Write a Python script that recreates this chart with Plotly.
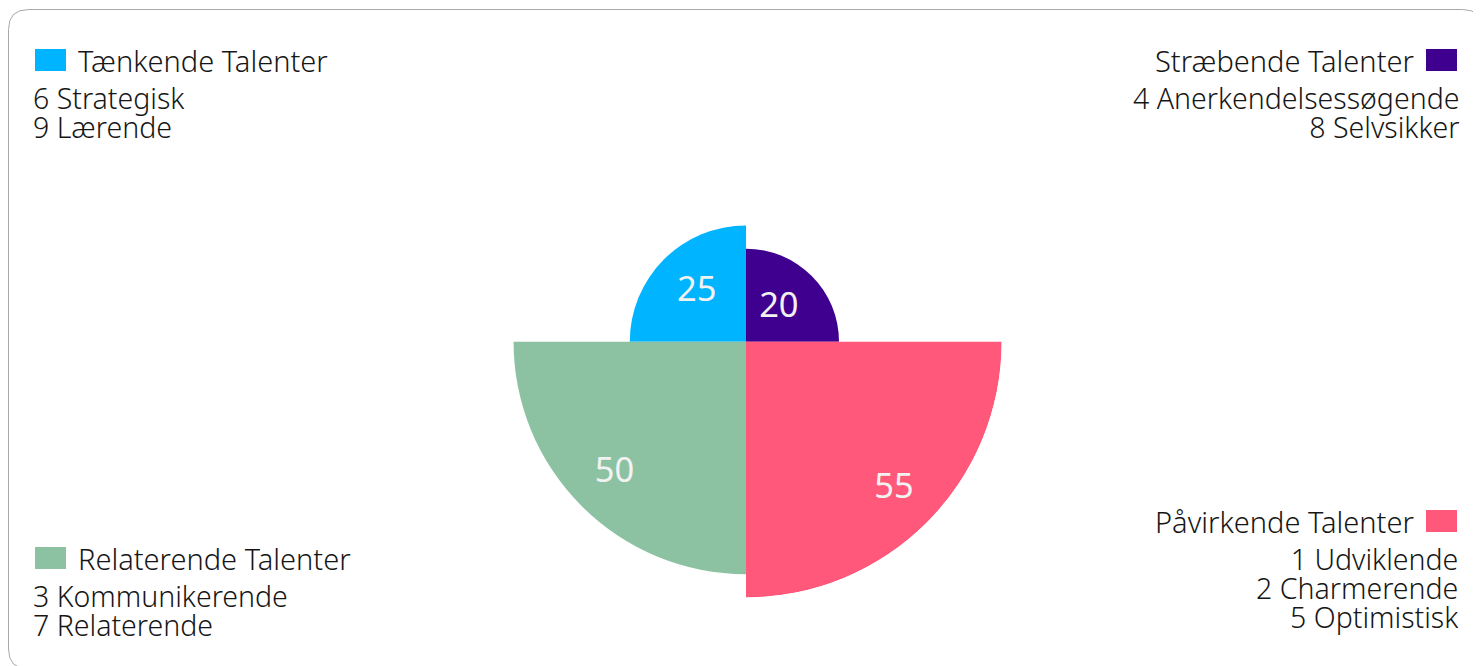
import plotly.graph_objects as go

# ---- data ----
groups = ["Tænkende Talenter", "Stræbende Talenter", "Påvirkende Talenter", "Relaterende Talenter"]
values = [25, 20, 55, 50]
angles = [135, 45, 315, 225]
colors = ["#00B4FF", "#3F008F", "#FF587A", "#8CC2A2"]
items_taenkende = ["6 Strategisk", "9 Lærende"]
items_straebende = ["4 Anerkendelsessøgende", "8 Selvsikker"]
items_paavirkende = ["1 Udviklende", "2 Charmerende", "5 Optimistisk"]
items_relaterende = ["3 Kommunikerende", "7 Relaterende"]
items = [items_taenkende, items_straebende, items_paavirkende, items_relaterende]

W, H = 1481, 666
OFF = 8  # page body margin
FONT = "Noto Sans"
TXT = "#161616"
FS = 28.5          # legend text size
LINE = 29          # line pitch of item lists


def px(x):
    return (x - OFF) / W


def py(y):
    return 1 - (y - OFF) / H


fig = go.Figure()
fig.add_trace(go.Barpolar(
    r=values, theta=angles, width=[90] * 4,
    marker=dict(color=colors, line=dict(width=0)),
    hoverinfo="skip", showlegend=False,
))
fig.add_trace(go.Scatterpolar(
    r=[v - 10 for v in values], theta=angles, mode="text",
    text=[str(v) for v in values],
    textfont=dict(family=FONT, size=34.5, color="#f2f2f2"),
    hoverinfo="skip", showlegend=False,
))

# polar geometry (pixels, reference screen coords)
cx, cy, R = 746, 341.7, 255.7
fig.update_layout(
    width=W, height=H,
    margin=dict(l=0, r=0, t=0, b=0),
    paper_bgcolor="white", plot_bgcolor="white",
    polar=dict(
        domain=dict(x=[px(cx - R), px(cx + R)], y=[py(cy + R), py(cy - R)]),
        bgcolor="rgba(0,0,0,0)",
        radialaxis=dict(range=[0, max(values)], visible=False, showgrid=False),
        angularaxis=dict(visible=False, showgrid=False, rotation=0, direction="counterclockwise"),
        bargap=0,
    ),
)

shapes = []
annotations = []

# outer rounded border
x0, y0, x1, y1, rr = 8.5, 9.5, 1482.5, 669, 20
path = (f"M {px(x0)},{py(y0 + rr)} Q {px(x0)},{py(y0)} {px(x0 + rr)},{py(y0)} "
        f"L {px(x1 - rr)},{py(y0)} Q {px(x1)},{py(y0)} {px(x1)},{py(y0 + rr)} "
        f"L {px(x1)},{py(y1 - rr)} Q {px(x1)},{py(y1)} {px(x1 - rr)},{py(y1)} "
        f"L {px(x0 + rr)},{py(y1)} Q {px(x0)},{py(y1)} {px(x0)},{py(y1 - rr)} Z")
shapes.append(dict(type="path", xref="paper", yref="paper", path=path,
                   line=dict(color="#a8a8a8", width=1), fillcolor="rgba(0,0,0,0)", layer="below"))

# legend blocks: (title center y, side)
blocks = [(60, "left"), (60, "right"), (521, "right"), (558, "left")]
for i, (ty, side) in enumerate(blocks):
    if side == "left":
        sq = (35, 66)
        tx, anchor, ix = 76, "left", 31
    else:
        sq = (1426, 1457)
        tx, anchor, ix = 1416, "right", 1461
    shapes.append(dict(type="rect", xref="paper", yref="paper",
                       x0=px(sq[0]), x1=px(sq[1]), y0=py(ty + 11), y1=py(ty - 11),
                       fillcolor=colors[i], line=dict(width=0)))
    annotations.append(dict(x=px(tx), y=py(ty), xref="paper", yref="paper",
                            text=groups[i], showarrow=False, xanchor=anchor, yanchor="middle",
                            font=dict(family=FONT, size=29, color=TXT, weight=300)))
    n = len(items[i])
    body = "<br>".join(f"<span style='font-size:{FS}px'>{it}</span>" for it in items[i])
    mid = ty + 38 + LINE * (n - 1) / 2
    annotations.append(dict(x=px(ix), y=py(mid), xref="paper", yref="paper",
                            text=body, showarrow=False, xanchor=anchor, yanchor="middle",
                            align=anchor,
                            font=dict(family=FONT, size=LINE / 1.3, color=TXT, weight=300)))

fig.update_layout(shapes=shapes, annotations=annotations)
fig.write_html("out.html")
